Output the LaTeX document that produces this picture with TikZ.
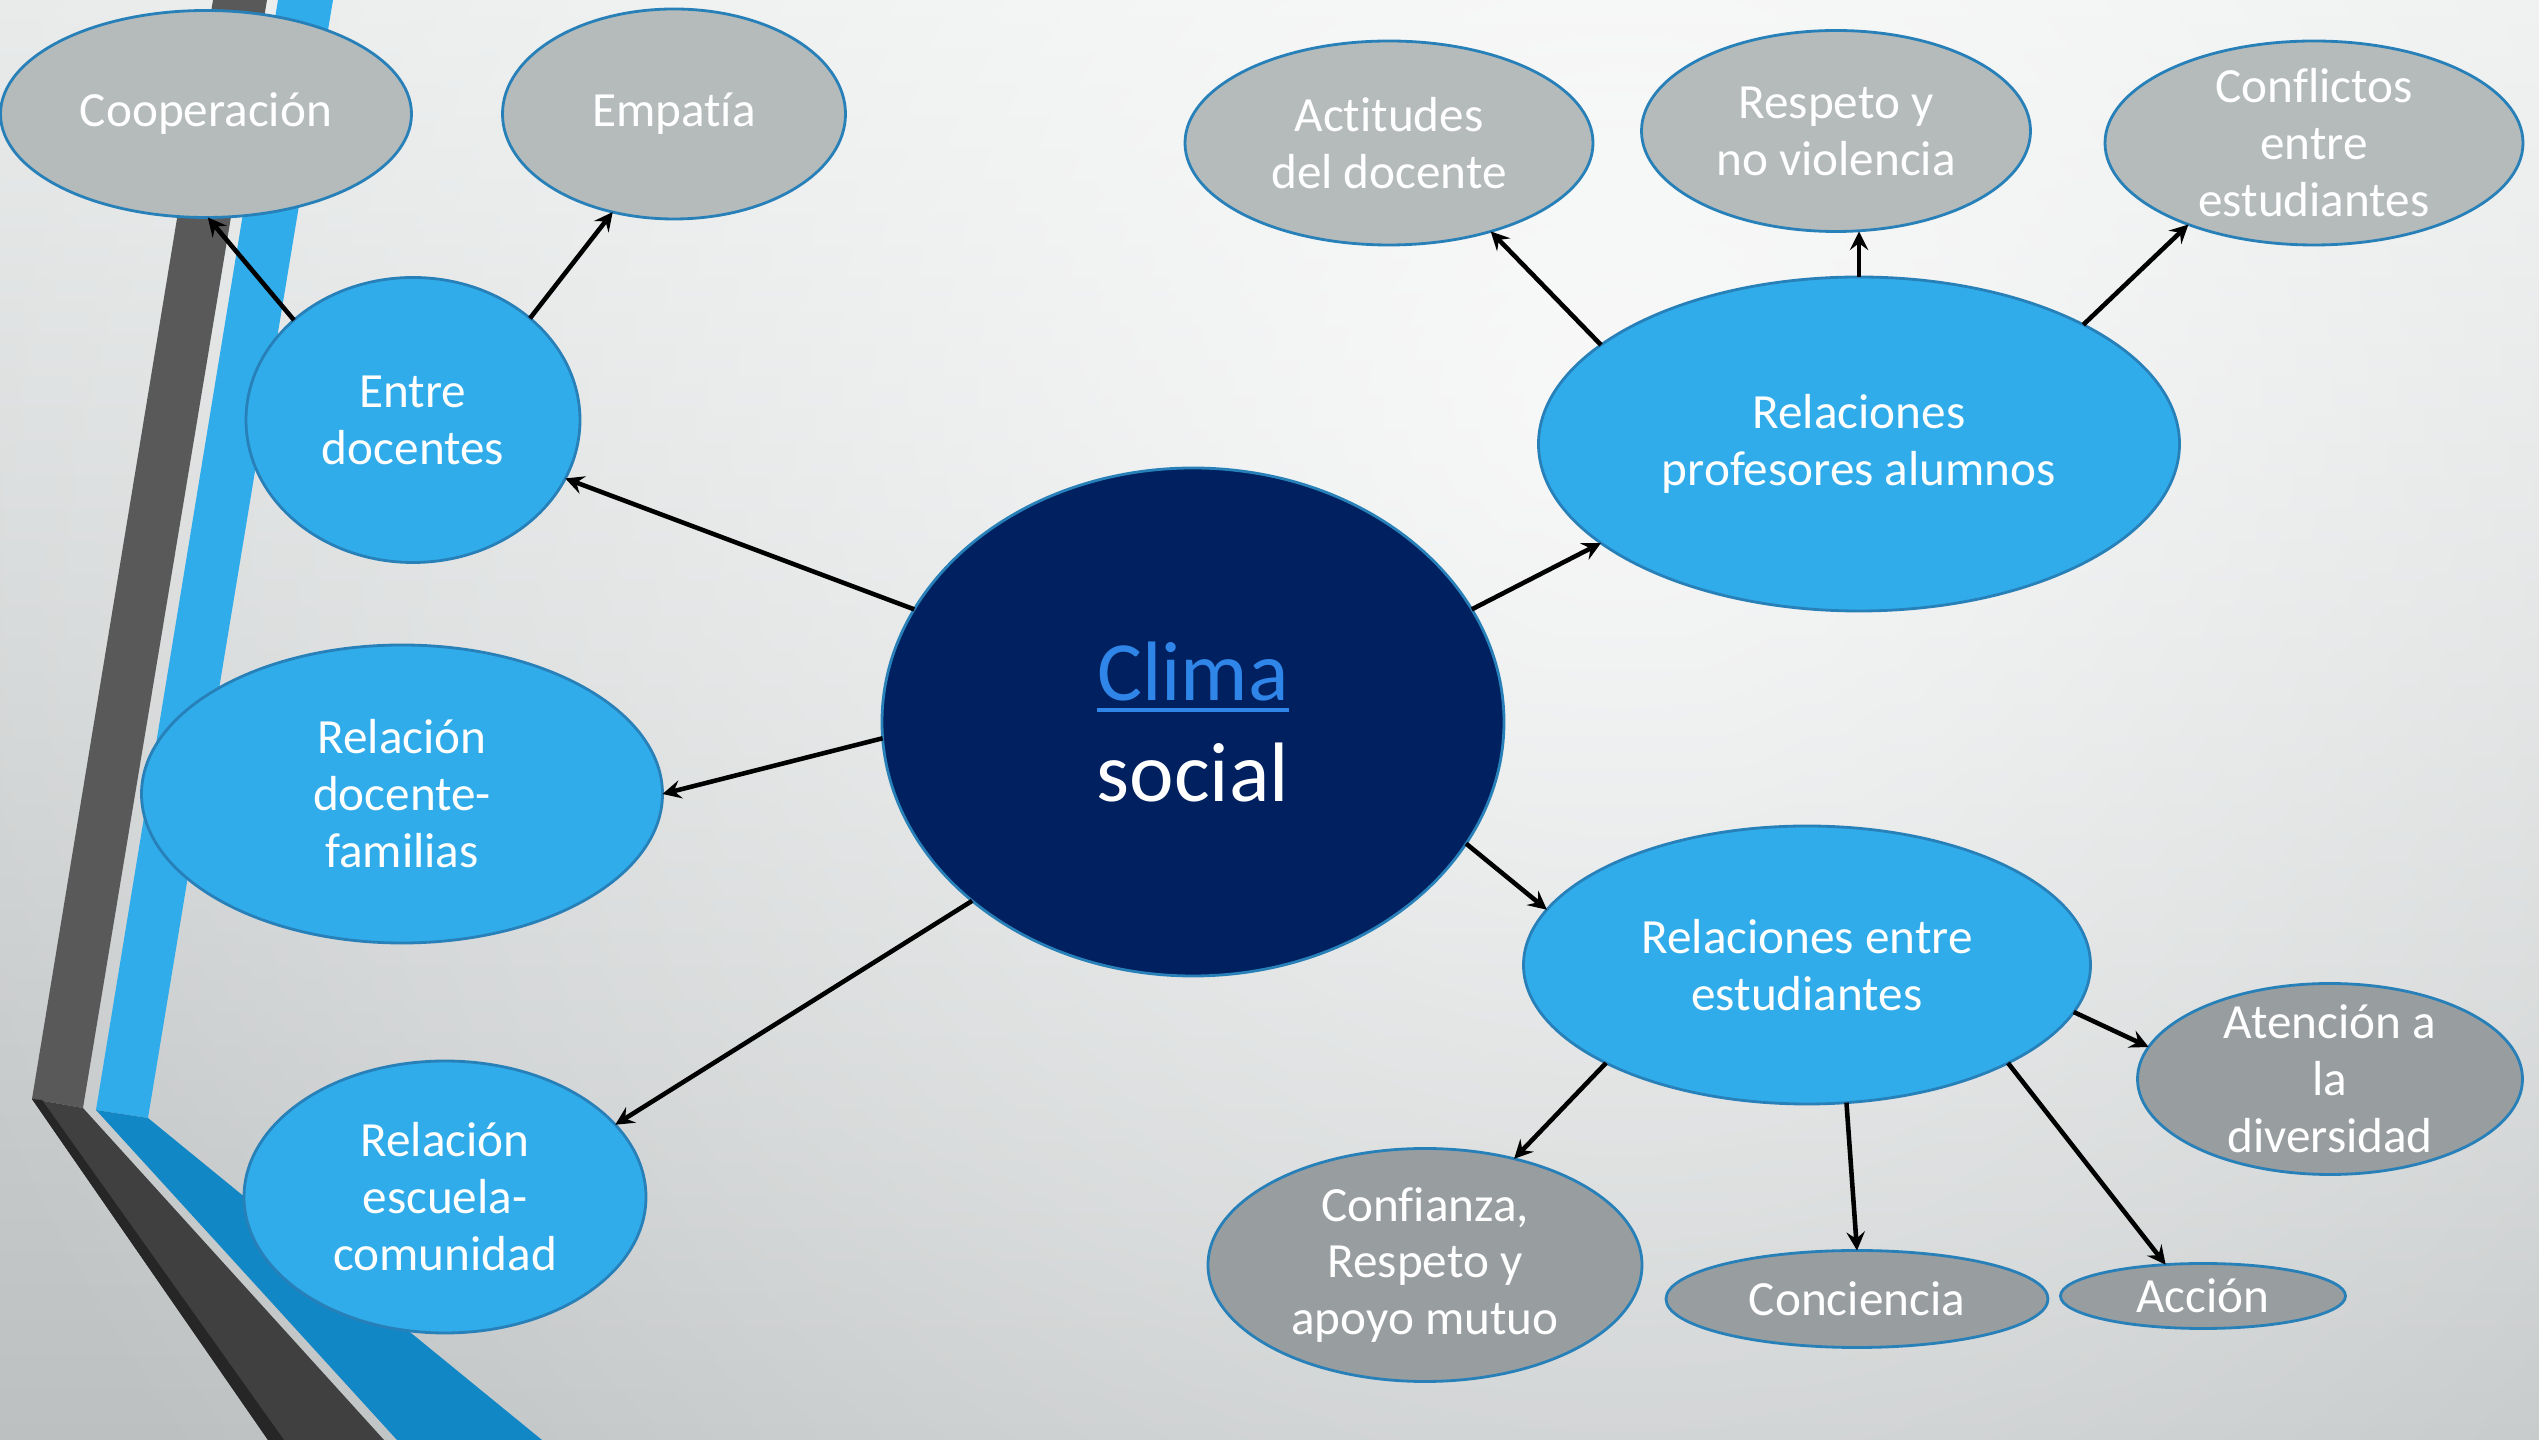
\documentclass[tikz,border=0pt]{standalone}
\usepackage{fontspec}
\setmainfont{Carlito}[Ligatures=NoCommon]
\usetikzlibrary{shapes.geometric, arrows, fadings}
\definecolor{bgtop}{RGB}{232,234,234}
\definecolor{bgbottom}{RGB}{188,192,193}
\definecolor{stripegray}{RGB}{89,89,89}
\definecolor{stripedark}{RGB}{64,64,64}
\definecolor{stripeedge}{RGB}{38,38,38}
\definecolor{stripeblue}{RGB}{49,172,234}
\definecolor{stripedeep}{RGB}{18,135,198}
\definecolor{bubbleblue}{RGB}{49,172,234}
\definecolor{navy}{RGB}{0,32,96}
\definecolor{rim}{RGB}{40,128,185}
\definecolor{greyhigh}{RGB}{181,187,187}
\definecolor{greylow}{RGB}{152,157,160}
\definecolor{linkblue}{RGB}{47,134,232}
\tikzfading[name=glow, inner color=transparent!0, outer color=transparent!100]
\tikzstyle{bubble} = [ellipse, draw=rim, line width=0.8pt, text=white, align=center, inner sep=-5pt, outer sep=0pt, font=\fontsize{14}{16.2}\selectfont]
\tikzstyle{hub} = [bubble, fill=navy, font=\fontsize{24}{28.7}\selectfont]
\tikzstyle{branch} = [bubble, fill=bubbleblue]
\tikzstyle{leaf} = [bubble, fill=greyhigh]
\tikzstyle{leafdark} = [bubble, fill=greylow]
\tikzstyle{link} = [line width=1.3pt,->,>=stealth]
\newcommand{\linkword}[1]{\textcolor{linkblue}{\setbox0\hbox{#1}\rlap{\rule[-3.3pt]{\wd0}{1.1pt}}\box0}}

\begin{document}
\begin{tikzpicture}
     \useasboundingbox (0, 0) rectangle (25.39, 14.40);
     % background
     \begin{scope}
          \clip (0, 0) rectangle (25.39, 14.40);
          \shade[top color = bgtop, bottom color = bgbottom] (0, 0) rectangle (25.39, 14.40);
          \fill[white, opacity = 0.8, path fading = glow] (16.2, 10.4) circle (18);
     \end{scope}
     % stripes on the left
     \fill[fill = stripegray] (2.13, 14.40) -- (2.67, 14.40) -- (0.83, 3.32) -- (0.32, 3.41) -- cycle;
     \fill[fill = stripedark] (0.32, 3.41) -- (0.83, 3.32) -- (3.84, 0) -- (2.68, 0) -- cycle;
     \fill[fill = stripeedge] (0.32, 3.41) -- (0.42, 3.40) -- (2.84, 0) -- (2.68, 0) -- cycle;
     \fill[fill = stripeblue] (2.78, 14.40) -- (3.33, 14.40) -- (1.48, 3.22) -- (0.96, 3.30) -- cycle;
     \fill[fill = stripedeep] (0.96, 3.30) -- (1.48, 3.22) -- (5.42, 0) -- (3.97, 0) -- cycle;
     % nodes
     \node (clima) at (11.93, 7.18) [hub, minimum width = 6.22cm, minimum height = 5.08cm] {\linkword{Clima}\\social};
     \node (docentes) at (4.13, 10.20) [branch, minimum width = 3.34cm, minimum height = 2.85cm] {Entre\\docentes};
     \node (familias) at (4.02, 6.46) [branch, minimum width = 5.21cm, minimum height = 2.98cm] {Relación\\docente-\\familias};
     \node (comunidad) at (4.45, 2.43) [branch, minimum width = 4.02cm, minimum height = 2.72cm] {Relación\\escuela-\\comunidad};
     \node (profesores) at (18.59, 9.96) [branch, minimum width = 6.41cm, minimum height = 3.34cm] {Relaciones\\profesores alumnos};
     \node (estudiantes) at (18.07, 4.75) [branch, minimum width = 5.67cm, minimum height = 2.78cm] {Relaciones entre\\estudiantes};
     \node (cooperacion) at (2.06, 13.26) [leaf, minimum width = 4.11cm, minimum height = 2.07cm] {Cooperación};
     \node (empatia) at (6.74, 13.26) [leaf, minimum width = 3.43cm, minimum height = 2.10cm] {Empatía};
     \node (actitudes) at (13.89, 12.97) [leaf, minimum width = 4.08cm, minimum height = 2.04cm] {Actitudes\\del docente};
     \node (respeto) at (18.36, 13.09) [leaf, minimum width = 3.89cm, minimum height = 2.01cm] {Respeto y\\no violencia};
     \node (conflictos) at (23.14, 12.97) [leaf, minimum width = 4.18cm, minimum height = 2.04cm] {Conflictos\\entre\\estudiantes};
     \node (atencion) at (23.30, 3.61) [leafdark, minimum width = 3.85cm, minimum height = 1.91cm] {Atención a\\la\\diversidad};
     \node (confianza) at (14.25, 1.75) [leafdark, minimum width = 4.34cm, minimum height = 2.33cm] {Confianza,\\Respeto y\\apoyo mutuo};
     \node (conciencia) at (18.57, 1.41) [leafdark, minimum width = 3.82cm, minimum height = 0.97cm] {Conciencia};
     \node (accion) at (22.03, 1.44) [leafdark, minimum width = 2.85cm, minimum height = 0.65cm] {Acción};
     % connectors
     \draw[link] (clima.158) -- (docentes.339);
     \draw[link] (clima.183) -- (familias.0);
     \draw[link] (clima.219) -- (comunidad.23);
     \draw[link] (clima.22) -- (profesores.201);
     \draw[link] (clima.336) -- (estudiantes.168);
     \draw[link] (docentes.140) -- (cooperacion.271);
     \draw[link] (docentes.41) -- (empatia.238);
     \draw[link] (profesores.159) -- (actitudes.319);
     \draw[link] (profesores.north) -- (profesores.north |- respeto.south);
     \draw[link] (profesores.28) -- (conflictos.213);
     \draw[link] (estudiantes.350) -- (atencion.170);
     \draw[link] (estudiantes.206) -- (confianza.50);
     \draw[link] (estudiantes.286) -- (conciencia.north);
     \draw[link] (estudiantes.334) -- (accion.140);
\end{tikzpicture}
\end{document}
